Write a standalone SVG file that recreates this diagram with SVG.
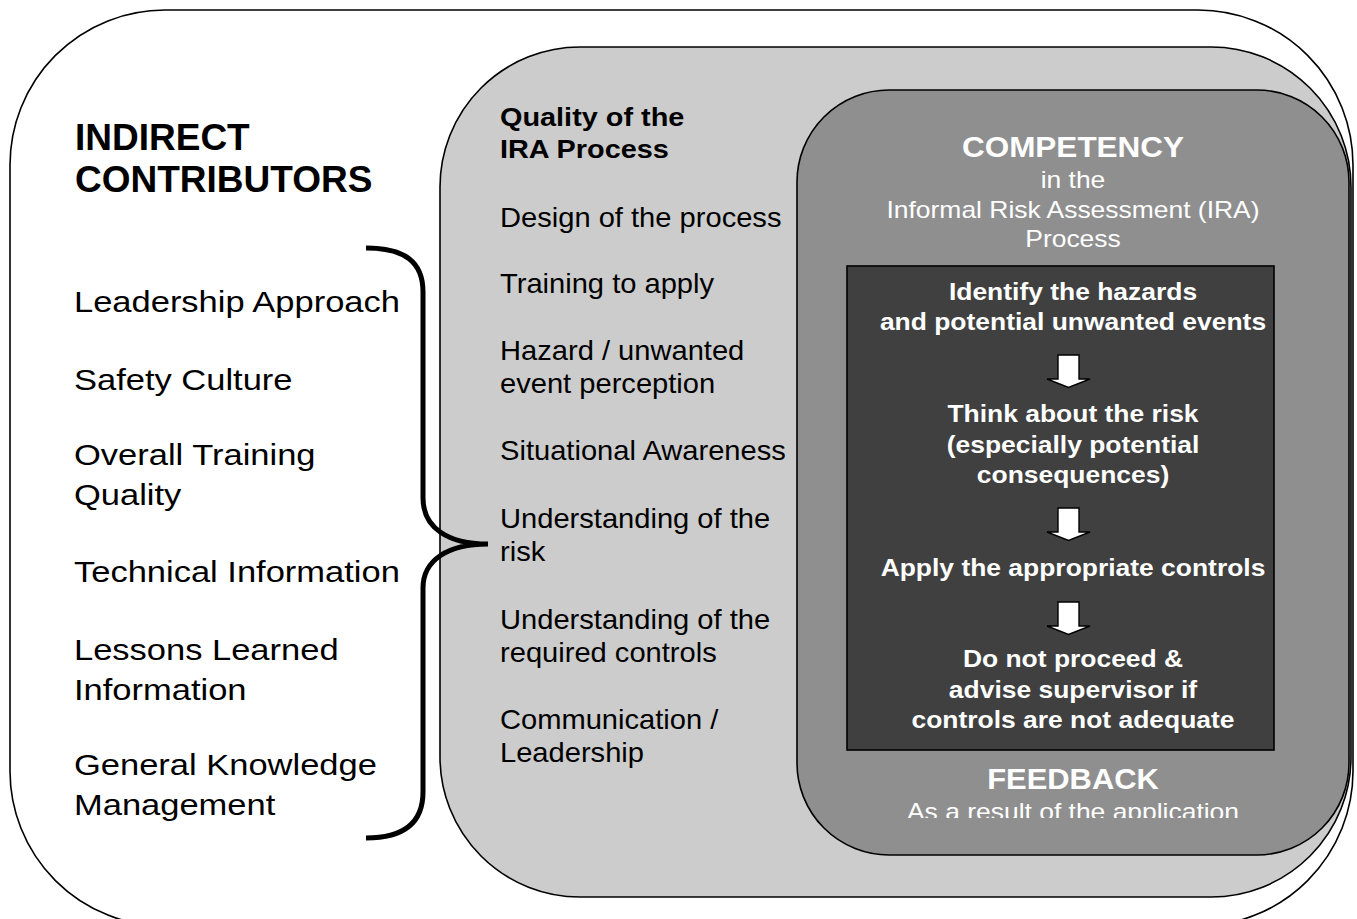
<svg xmlns="http://www.w3.org/2000/svg" width="1357" height="919" viewBox="0 0 1357 919">
  <style>
    .panel { stroke: #000; stroke-width: 1.6; }
    .outer { fill: #ffffff; }
    .quality { fill: #cccccc; }
    .competency { fill: #8f8f8f; }
    .steps { fill: #404040; stroke: #000; stroke-width: 1.6; }
    .arrow { fill: #ffffff; stroke: #000; stroke-width: 1.4; stroke-linejoin: miter; }
    .brace { fill: none; stroke: #000; stroke-width: 5; stroke-linecap: butt; }
    text { font-family: "Liberation Sans", Arial, Helvetica, sans-serif; }
    .dark { fill: #000; }
    .light { fill: #ffffff; }
    .b { font-weight: bold; }
    .h-left { font-size: 37px; font-weight: bold; }
    .item-left { font-size: 30px; }
    .h-mid { font-size: 26px; font-weight: bold; }
    .item-mid { font-size: 28px; }
    .h-comp { font-size: 30px; font-weight: bold; }
    .sub-comp { font-size: 23px; }
    .step { font-size: 23px; font-weight: bold; }
  </style>
  <defs>
    <clipPath id="feedbackClip">
      <rect x="800" y="790" width="550" height="28"/>
    </clipPath>
  </defs>

  <!-- outer frame: indirect contributors -->
  <g id="indirect-contributors">
    <rect class="panel outer" x="10" y="10" width="1343" height="916" rx="155" ry="155"/>
    <text class="dark h-left" x="75" y="150">INDIRECT</text>
    <text class="dark h-left" x="75" y="192">CONTRIBUTORS</text>
    <g transform="translate(74 0) scale(1.15 1)" class="dark item-left">
      <text x="0" y="312">Leadership Approach</text>
      <text x="0" y="390">Safety Culture</text>
      <text x="0" y="465">Overall Training</text>
      <text x="0" y="505">Quality</text>
      <text x="0" y="582">Technical Information</text>
      <text x="0" y="660">Lessons Learned</text>
      <text x="0" y="700">Information</text>
      <text x="0" y="775">General Knowledge</text>
      <text x="0" y="815">Management</text>
    </g>
  </g>

  <!-- middle panel: quality of the IRA process -->
  <g id="ira-quality">
    <rect class="panel quality" x="440" y="47" width="911" height="850" rx="140" ry="140"/>
    <g transform="translate(500 0) scale(1.11 1)" class="dark h-mid">
      <text x="0" y="126">Quality of the</text>
      <text x="0" y="158">IRA Process</text>
    </g>
    <g transform="translate(500 0) scale(1.04 1)" class="dark item-mid">
      <text x="0" y="227">Design of the process</text>
      <text x="0" y="293">Training to apply</text>
      <text x="0" y="360">Hazard / unwanted</text>
      <text x="0" y="393">event perception</text>
      <text x="0" y="460">Situational Awareness</text>
      <text x="0" y="528">Understanding of the</text>
      <text x="0" y="561">risk</text>
      <text x="0" y="629">Understanding of the</text>
      <text x="0" y="662">required controls</text>
      <text x="0" y="729">Communication /</text>
      <text x="0" y="762">Leadership</text>
    </g>
  </g>

  <!-- inner panel: competency in the IRA process -->
  <g id="ira-competency">
    <rect class="panel competency" x="797" y="90" width="552" height="765" rx="92" ry="92"/>
    <g transform="translate(1073 0) scale(1.05 1)" class="light h-comp" text-anchor="middle">
      <text x="0" y="157">COMPETENCY</text>
    </g>
    <g transform="translate(1073 0) scale(1.15 1)" class="light sub-comp" text-anchor="middle">
      <text x="0" y="188">in the</text>
      <text x="0" y="218">Informal Risk Assessment (IRA)</text>
      <text x="0" y="247">Process</text>
    </g>
  </g>

  <!-- process steps -->
  <g id="ira-steps">
    <rect class="steps" x="847" y="266" width="427" height="484"/>
    <g transform="translate(1073 0) scale(1.15 1)" class="light step" text-anchor="middle">
      <text x="0" y="300">Identify the hazards</text>
      <text x="0" y="330">and potential unwanted events</text>
      <text x="0" y="422">Think about the risk</text>
      <text x="0" y="453">(especially potential</text>
      <text x="0" y="483">consequences)</text>
      <text x="0" y="576">Apply the appropriate controls</text>
      <text x="0" y="667">Do not proceed &amp;</text>
      <text x="0" y="698">advise supervisor if</text>
      <text x="0" y="728">controls are not adequate</text>
    </g>
  </g>

  <!-- feedback -->
  <g id="feedback">
    <g transform="translate(1073 0) scale(1.03 1)" class="light h-comp" text-anchor="middle">
      <text x="0" y="789">FEEDBACK</text>
    </g>
    <g clip-path="url(#feedbackClip)">
      <g transform="translate(1073 0) scale(1.15 1)" class="light sub-comp" text-anchor="middle">
        <text x="0" y="820">As a result of the application</text>
      </g>
    </g>
  </g>

  <!-- connectors: brace and step arrows -->
  <g id="connectors">
    <path class="brace" d="M 366 248 C 405 248, 423 262, 423 292 L 423 498 C 423 528, 448 544, 488 544 C 448 544, 423 560, 423 588 L 423 792 C 423 822, 405 838, 366 838"/>
    <path class="arrow" d="M 1058 355 h 21 v 24 h 11 l -21.5 8.5 l -21.5 -8.5 h 11 z"/>
    <path class="arrow" d="M 1058 508 h 21 v 24 h 11 l -21.5 8.5 l -21.5 -8.5 h 11 z"/>
    <path class="arrow" d="M 1058 602 h 21 v 24 h 11 l -21.5 8.5 l -21.5 -8.5 h 11 z"/>
  </g>
</svg>
